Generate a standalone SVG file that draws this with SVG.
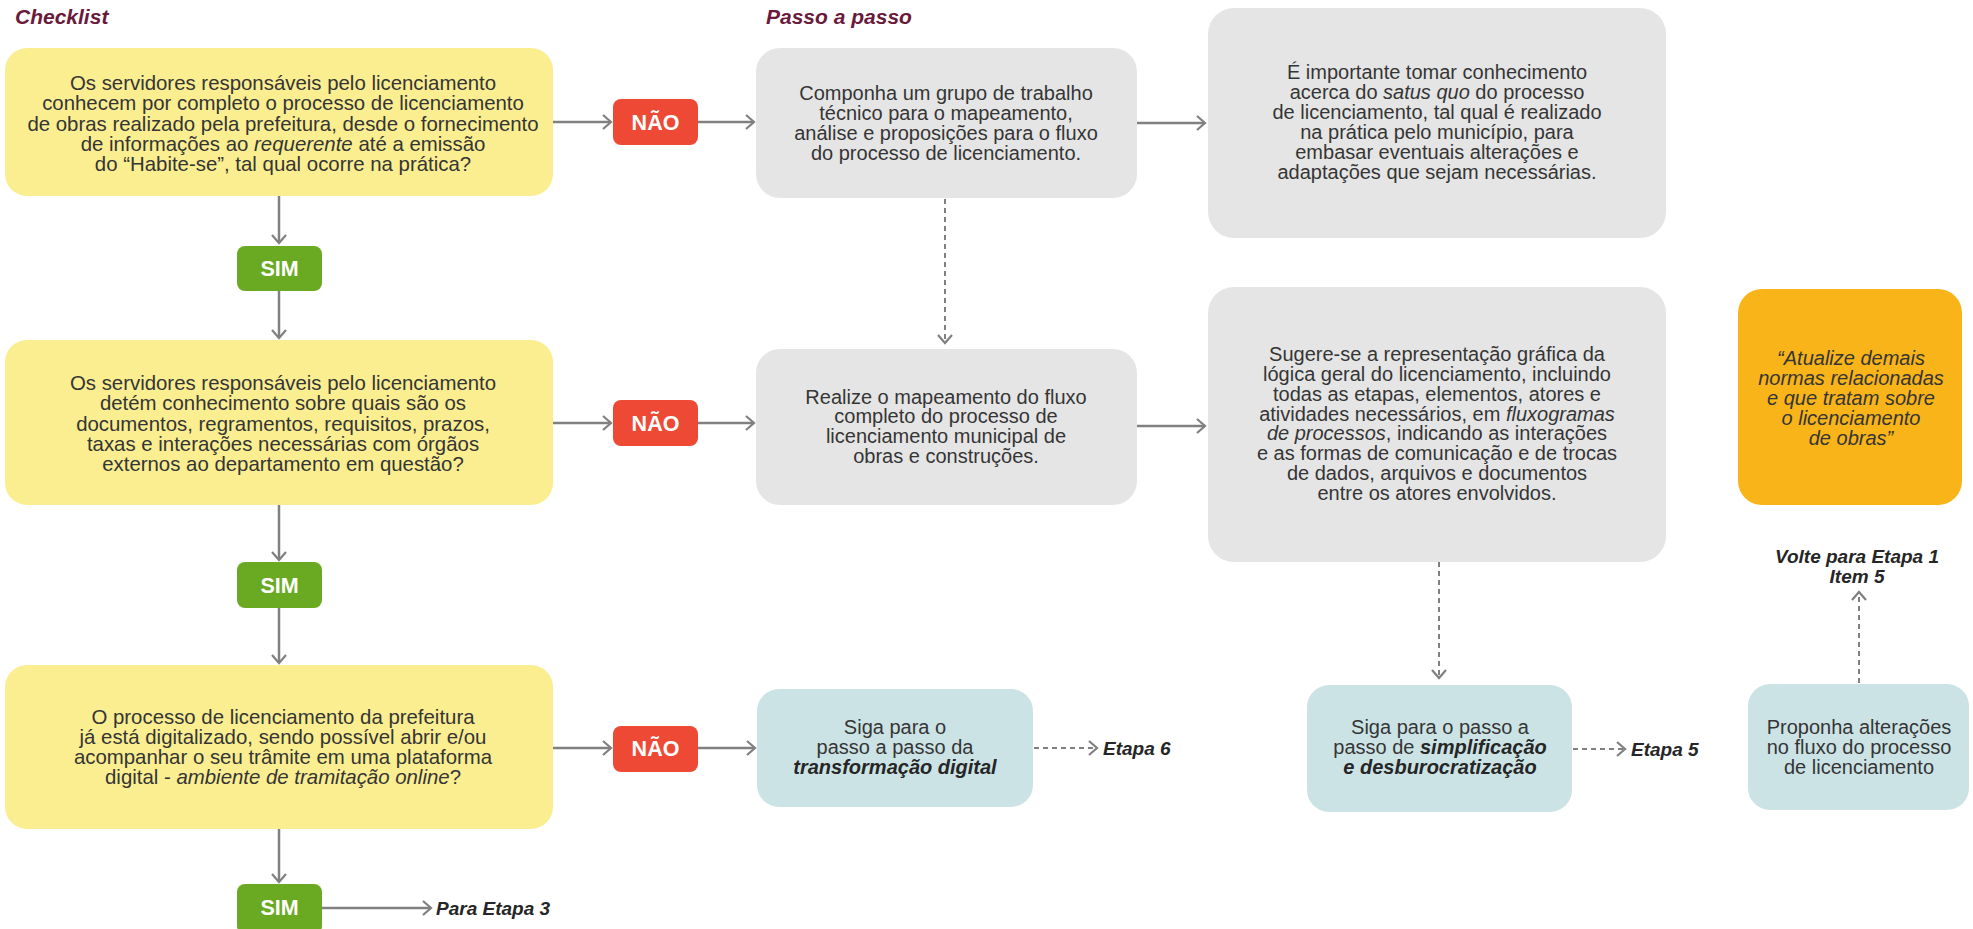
<svg xmlns="http://www.w3.org/2000/svg" width="1973" height="929" viewBox="0 0 1973 929">
<style>
.t{font-family:"Liberation Sans",Arial,sans-serif;font-size:20px;fill:#353535;text-anchor:middle}
.y{font-size:20.4px}
.i{font-style:italic}
.bi{font-style:italic;font-weight:bold;fill:#262626}
.hd{font-family:"Liberation Sans",Arial,sans-serif;font-size:21px;font-style:italic;font-weight:bold;fill:#6a1a3b}
.lbl{font-family:"Liberation Sans",Arial,sans-serif;font-size:21.5px;font-weight:bold;fill:#fff;text-anchor:middle}
.nt{font-family:"Liberation Sans",Arial,sans-serif;font-size:19px;font-style:italic;font-weight:bold;fill:#262626}
.yel{fill:#faee91}
.gry{fill:#e5e5e5}
.blu{fill:#cce3e5}
.org{fill:#f8b418}
.red{fill:#ee4935}
.grn{fill:#6aaa23}
.c{stroke:#808080;stroke-width:2.5;fill:none;marker-end:url(#ah)}
.d{stroke:#808080;stroke-width:2;stroke-dasharray:5 4;fill:none;marker-end:url(#ah)}
</style>
<defs>
<marker id="ah" markerUnits="userSpaceOnUse" markerWidth="14" markerHeight="20" viewBox="-10 -9 14 18" refX="1" refY="0" orient="auto">
<path d="M-7,-7 L1,0 L-7,7" fill="none" stroke="#808080" stroke-width="2.2"/>
</marker>
</defs>
<rect width="1973" height="929" fill="#fff"/>
<text class="hd" x="15" y="24">Checklist</text>
<text class="hd" x="766" y="24">Passo a passo</text>

<g id="connectors">
<path class="c" d="M553,122 H611"/>
<path class="c" d="M698,122 H754"/>
<path class="c" d="M1137,123 H1205"/>
<path class="c" d="M279,196 V243"/>
<path class="c" d="M279,291 V338"/>
<path class="c" d="M553,423 H611"/>
<path class="c" d="M698,423 H754"/>
<path class="c" d="M1137,426 H1205"/>
<path class="c" d="M279,505 V560"/>
<path class="c" d="M279,608 V663"/>
<path class="c" d="M553,748 H611"/>
<path class="c" d="M698,748 H755"/>
<path class="c" d="M279,829 V882"/>
<path class="c" d="M322,908 H431"/>
<path class="d" d="M945,199 V343"/>
<path class="d" d="M1439,562 V678"/>
<path class="d" d="M1034,748 H1097"/>
<path class="d" d="M1573,749 H1625"/>
<path class="d" d="M1859,683 V592"/>
</g>

<g id="q1">
<rect class="yel" x="5" y="48" width="548" height="148" rx="22"/>
<text class="t y" x="283" y="90">Os servidores responsáveis pelo licenciamento</text>
<text class="t y" x="283" y="110">conhecem por completo o processo de licenciamento</text>
<text class="t y" x="283" y="130.5">de obras realizado pela prefeitura, desde o fornecimento</text>
<text class="t y" x="283" y="150.5">de informações ao <tspan class="i">requerente</tspan> até a emissão</text>
<text class="t y" x="283" y="170.5">do “Habite-se”, tal qual ocorre na prática?</text>
</g>
<g id="q2">
<rect class="yel" x="5" y="340" width="548" height="165" rx="22"/>
<text class="t y" x="283" y="390">Os servidores responsáveis pelo licenciamento</text>
<text class="t y" x="283" y="410">detém conhecimento sobre quais são os</text>
<text class="t y" x="283" y="431">documentos, regramentos, requisitos, prazos,</text>
<text class="t y" x="283" y="451">taxas e interações necessárias com órgãos</text>
<text class="t y" x="283" y="470.5">externos ao departamento em questão?</text>
</g>
<g id="q3">
<rect class="yel" x="5" y="665" width="548" height="164" rx="22"/>
<text class="t y" x="283" y="724">O processo de licenciamento da prefeitura</text>
<text class="t y" x="283" y="744">já está digitalizado, sendo possível abrir e/ou</text>
<text class="t y" x="283" y="764">acompanhar o seu trâmite em uma plataforma</text>
<text class="t y" x="283" y="784">digital - <tspan class="i">ambiente de tramitação online</tspan>?</text>
</g>

<g id="sim1"><rect class="grn" x="237" y="246" width="85" height="45" rx="8"/><text class="lbl" x="279.5" y="276">SIM</text></g>
<g id="sim2"><rect class="grn" x="237" y="562" width="85" height="46" rx="8"/><text class="lbl" x="279.5" y="593">SIM</text></g>
<g id="sim3"><rect class="grn" x="237" y="884" width="85" height="50" rx="8"/><text class="lbl" x="279.5" y="915">SIM</text></g>

<g id="nao1"><rect class="red" x="613" y="99" width="85" height="46" rx="8"/><text class="lbl" x="655.5" y="130">NÃO</text></g>
<g id="nao2"><rect class="red" x="613" y="400" width="85" height="46" rx="8"/><text class="lbl" x="655.5" y="431">NÃO</text></g>
<g id="nao3"><rect class="red" x="613" y="726" width="85" height="46" rx="8"/><text class="lbl" x="655.5" y="756">NÃO</text></g>

<g id="g1">
<rect class="gry" x="756" y="48" width="381" height="150" rx="24"/>
<text class="t" x="946" y="100">Componha um grupo de trabalho</text>
<text class="t" x="946" y="120">técnico para o mapeamento,</text>
<text class="t" x="946" y="140">análise e proposições para o fluxo</text>
<text class="t" x="946" y="160">do processo de licenciamento.</text>
</g>
<g id="g2">
<rect class="gry" x="756" y="349" width="381" height="156" rx="24"/>
<text class="t" x="946" y="404">Realize o mapeamento do fluxo</text>
<text class="t" x="946" y="423">completo do processo de</text>
<text class="t" x="946" y="443">licenciamento municipal de</text>
<text class="t" x="946" y="463">obras e construções.</text>
</g>
<g id="g3">
<rect class="gry" x="1208" y="8" width="458" height="230" rx="26"/>
<text class="t" x="1437" y="79">É importante tomar conhecimento</text>
<text class="t" x="1437" y="99">acerca do <tspan class="i">satus quo</tspan> do processo</text>
<text class="t" x="1437" y="119">de licenciamento, tal qual é realizado</text>
<text class="t" x="1437" y="139">na prática pelo município, para</text>
<text class="t" x="1437" y="159">embasar eventuais alterações e</text>
<text class="t" x="1437" y="179">adaptações que sejam necessárias.</text>
</g>
<g id="g4">
<rect class="gry" x="1208" y="287" width="458" height="275" rx="26"/>
<text class="t" x="1437" y="361">Sugere-se a representação gráfica da</text>
<text class="t" x="1437" y="381">lógica geral do licenciamento, incluindo</text>
<text class="t" x="1437" y="401">todas as etapas, elementos, atores e</text>
<text class="t" x="1437" y="421">atividades necessários, em <tspan class="i">fluxogramas</tspan></text>
<text class="t" x="1437" y="440"><tspan class="i">de processos</tspan>, indicando as interações</text>
<text class="t" x="1437" y="460">e as formas de comunicação e de trocas</text>
<text class="t" x="1437" y="480">de dados, arquivos e documentos</text>
<text class="t" x="1437" y="500">entre os atores envolvidos.</text>
</g>
<g id="norm">
<rect class="org" x="1738" y="289" width="224" height="216" rx="24"/>
<text class="t i" x="1851" y="365">“Atualize demais</text>
<text class="t i" x="1851" y="385">normas relacionadas</text>
<text class="t i" x="1851" y="405">e que tratam sobre</text>
<text class="t i" x="1851" y="425">o licenciamento</text>
<text class="t i" x="1851" y="445">de obras”</text>
</g>
<g id="b1">
<rect class="blu" x="757" y="689" width="276" height="118" rx="22"/>
<text class="t" x="895" y="734">Siga para o</text>
<text class="t" x="895" y="754">passo a passo da</text>
<text class="t" x="895" y="774"><tspan class="bi">transformação digital</tspan></text>
</g>
<g id="b2">
<rect class="blu" x="1307" y="685" width="265" height="127" rx="22"/>
<text class="t" x="1440" y="734">Siga para o passo a</text>
<text class="t" x="1440" y="754">passo de <tspan class="bi">simplificação</tspan></text>
<text class="t" x="1440" y="774"><tspan class="bi">e desburocratização</tspan></text>
</g>
<g id="b3">
<rect class="blu" x="1748" y="684" width="221" height="126" rx="22"/>
<text class="t" x="1859" y="734">Proponha alterações</text>
<text class="t" x="1859" y="754">no fluxo do processo</text>
<text class="t" x="1859" y="774">de licenciamento</text>
</g>

<g id="notes">
<text class="nt" x="1103" y="755">Etapa 6</text>
<text class="nt" x="1631" y="756">Etapa 5</text>
<text class="nt" x="436" y="915">Para Etapa 3</text>
<text class="nt" x="1857" y="563" text-anchor="middle">Volte para Etapa 1</text>
<text class="nt" x="1857" y="583" text-anchor="middle">Item 5</text>
</g>
</svg>
